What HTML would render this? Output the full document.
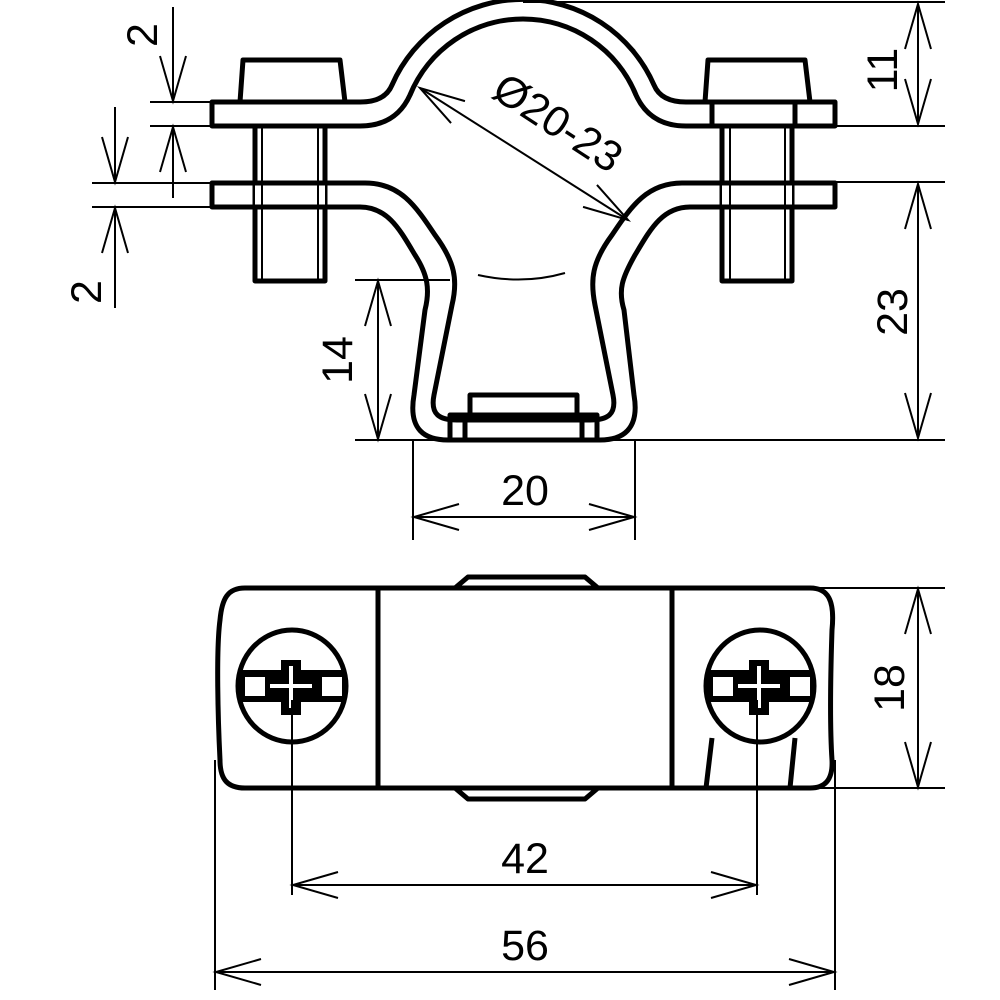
<!DOCTYPE html>
<html><head><style>
html,body{margin:0;padding:0;background:#fff;}
svg{display:block;}
text{font-family:"Liberation Sans","DejaVu Sans",sans-serif;font-size:43px;fill:#000;}
</style></head><body>
<svg width="1000" height="1000" viewBox="0 0 1000 1000" xmlns="http://www.w3.org/2000/svg">
<defs>
<marker id="a" viewBox="0 0 50 30" refX="46" refY="15" markerWidth="50" markerHeight="30" markerUnits="userSpaceOnUse" orient="auto-start-reverse">
<path d="M1,2 L46,15 L1,28" fill="none" stroke="#000" stroke-width="2"/>
</marker>
</defs>
<g fill="none" stroke="#000" stroke-width="5" stroke-linejoin="round">
<!-- upper strap -->
<path d="M212,102 L360,102 Q385,102 392,85 A143,143 0 0 1 654,85 Q661,102 686,102 L835,102 L835,126 L686,126 Q650,126 636,95 A122,122 0 0 0 410,95 Q396,126 360,126 L212,126 Z" fill="#fff"/>
<!-- lower strap -->
<path d="M212,183 L365,183 C400,183 415,205 435,235 C455,262 458,280 452,305 L434,395 C430,415 440,420 457,420 L590,420 C607,420 617,415 613,395 L595,305 C590,280 592,262 612,235 C632,205 648,183 682,183 L835,183 L835,207 L690,207 C662,207 650,230 635,255 C622,278 618,290 624,310 L634,395 C640,430 622,440 600,440 L448,440 C425,440 408,430 414,395 L425,310 C430,290 428,275 415,255 C400,230 388,207 360,207 L212,207 Z" fill="#fff"/>
<!-- bolts -->
<path d="M240,102 L243,60 L340,60 L345,102"/>
<path d="M705,102 L708,60 L805,60 L810,102"/>
<rect x="255" y="126" width="70" height="155" fill="none"/>
<rect x="255" y="183" width="70" height="24" fill="#fff" stroke="none"/>
<path d="M212,183 L365,183 M212,207 L360,207"/>
<rect x="722" y="126" width="70" height="155" fill="none"/>
<rect x="722" y="183" width="70" height="24" fill="#fff" stroke="none"/>
<path d="M682,183 L835,183 M690,207 L835,207"/>
<path d="M712,102 L712,126 M795,102 L795,126"/>
<!-- saddle -->
<rect x="470" y="395" width="107" height="20"/>
<path d="M450,440 L450,415 L597,415 L597,440 M465,415 L465,440 M582,415 L582,440"/>
</g>
<g fill="none" stroke="#000" stroke-width="2">
<path d="M262,128 L262,280 M318,128 L318,280 M730,128 L730,280 M785,128 L785,280"/>
<path d="M478,275 Q523,285 565,273"/>
<!-- dims top -->
<path d="M523,2 L945,2 M835,126 L945,126 M835,182 L945,182 M600,440 L945,440"/>
<line x1="918" y1="4" x2="918" y2="124" marker-start="url(#a)" marker-end="url(#a)"/>
<line x1="918" y1="184" x2="918" y2="438" marker-start="url(#a)" marker-end="url(#a)"/>
<path d="M150,102 L212,102 M150,126 L212,126 M92,183 L212,183 M92,207 L212,207"/>
<line x1="173" y1="7" x2="173" y2="101" marker-end="url(#a)"/>
<line x1="173" y1="198" x2="173" y2="127" marker-end="url(#a)"/>
<line x1="115" y1="107" x2="115" y2="182" marker-end="url(#a)"/>
<line x1="115" y1="308" x2="115" y2="208" marker-end="url(#a)"/>
<path d="M355,280 L450,280 M355,440 L450,440"/>
<line x1="378" y1="281" x2="378" y2="439" marker-start="url(#a)" marker-end="url(#a)"/>
<path d="M413,440 L413,540 M635,440 L635,540"/>
<line x1="414" y1="517" x2="634" y2="517" marker-start="url(#a)" marker-end="url(#a)"/>
<line x1="420" y1="88" x2="628" y2="220" marker-start="url(#a)" marker-end="url(#a)"/>
</g>
<text x="0" y="0" transform="translate(897,70) rotate(-90)" text-anchor="middle">11</text>
<text x="0" y="0" transform="translate(907,312) rotate(-90)" text-anchor="middle">23</text>
<text x="0" y="0" transform="translate(157,35) rotate(-90)" text-anchor="middle">2</text>
<text x="0" y="0" transform="translate(101,292) rotate(-90)" text-anchor="middle">2</text>
<text x="0" y="0" transform="translate(352,360) rotate(-90)" text-anchor="middle">14</text>
<text x="525" y="505" text-anchor="middle">20</text>
<text x="0" y="0" transform="translate(550,135) rotate(33)" text-anchor="middle">Ø20-23</text>

<!-- bottom view -->
<g fill="none" stroke="#000" stroke-width="5" stroke-linejoin="round">
<path d="M455,588 L468,577 L585,577 L598,588"/>
<path d="M455,788 L468,799 L585,799 L598,788"/>
<path d="M245,588 L810,588 C828,588 835,600 832,630 C830,690 830,730 832,760 C833,780 825,788 810,788 L245,788 C228,788 220,780 220,760 C218,720 216,650 220,620 C222,598 228,588 245,588 Z" fill="#fff"/>
<path d="M378,588 L378,788 M672,588 L672,788"/>
<path d="M712,738 L706,788 M795,738 L790,788"/>
<ellipse cx="292" cy="686" rx="54" ry="56" fill="#fff"/>
<ellipse cx="760" cy="686" rx="54" ry="56" fill="#fff"/>
</g>
<g fill="#000">
<rect x="240" y="670" width="106" height="32"/>
<rect x="281" y="660" width="20" height="55"/>
<rect x="708" y="670" width="106" height="32"/>
<rect x="749" y="660" width="20" height="55"/>
</g>
<g fill="#fff">
<rect x="245" y="677" width="20" height="19"/>
<rect x="322" y="677" width="20" height="19"/>
<rect x="270" y="684" width="42" height="4"/>
<rect x="289" y="666" width="4" height="42"/>
<rect x="713" y="677" width="20" height="19"/>
<rect x="790" y="677" width="20" height="19"/>
<rect x="738" y="684" width="42" height="4"/>
<rect x="757" y="666" width="4" height="42"/>
</g>
<g fill="none" stroke="#000" stroke-width="2">
<path d="M810,588 L945,588 M812,788 L945,788"/>
<line x1="918" y1="589" x2="918" y2="787" marker-start="url(#a)" marker-end="url(#a)"/>
<path d="M292,700 L292,895 M757,700 L757,895"/>
<line x1="293" y1="885" x2="756" y2="885" marker-start="url(#a)" marker-end="url(#a)"/>
<path d="M215,760 L215,990 M835,760 L835,990"/>
<line x1="216" y1="972" x2="834" y2="972" marker-start="url(#a)" marker-end="url(#a)"/>
</g>
<text x="0" y="0" transform="translate(904,688) rotate(-90)" text-anchor="middle">18</text>
<text x="525" y="873" text-anchor="middle">42</text>
<text x="525" y="960" text-anchor="middle">56</text>
</svg>
</body></html>
